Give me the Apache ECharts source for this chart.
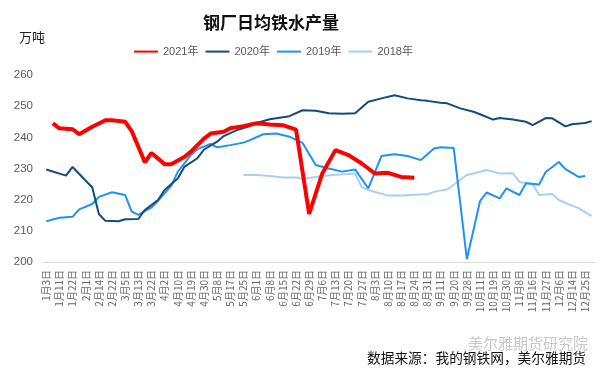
<!DOCTYPE html>
<html>
<head>
<meta charset="utf-8">
<script src="https://cdn.jsdelivr.net/npm/echarts@6/dist/echarts.min.js"></script>
<style>
html,body{margin:0;padding:0;background:#fff;}
#c{width:607px;height:373px;}
</style>
</head>
<body>
<div id="c"></div>
<script>
// Tick labels shown on the x axis (every other category of the underlying date axis)
var dateLabels = ['1月3日','1月11日','1月22日','2月1日','2月14日','2月22日','3月5日','3月13日','3月22日','4月2日',
  '4月10日','4月19日','4月30日','5月8日','5月17日','5月25日','6月1日','6月8日','6月15日','6月22日',
  '6月29日','7月6日','7月13日','7月20日','7月27日','8月3日','8月10日','8月17日','8月24日','8月31日',
  '9月11日','9月20日','9月28日','10月11日','10月19日','10月30日','11月8日','11月16日','11月27日','12月6日',
  '12月14日','12月25日'];

// Each series: [category index, value (万吨)]
var y2021 = [[1,244.5],[2,242.9],[4,242.6],[5,241.0],[7,243.4],[9,245.5],[10,245.5],[12,245.0],[13,242.0],
  [15,232.0],[16,235.0],[18,231.4],[19,231.4],[21,233.7],[22,235.4],[24,239.6],[25,241.2],[27,241.8],
  [28,242.9],[30,243.6],[32,244.5],[34,244.1],[36,243.9],[38,242.5],[40,215.4],[42,228.4],[44,235.9],
  [46,234.3],[48,231.6],[50,228.4],[52,228.6],[54,227.3],[56,227.0]];

var y2020 = [[0,229.7],[3,227.7],[4,230.5],[7,223.9],[8,215.4],[9,213.2],[11,213.1],[12,213.7],[14,213.8],
  [15,216.7],[17,219.9],[18,223.1],[20,226.8],[21,230.5],[23,233.3],[24,236.1],[26,238.6],[27,240.4],
  [29,242.3],[31,243.6],[32,244.6],[34,245.8],[37,246.8],[39,248.7],[41,248.5],[43,247.7],[45,247.6],
  [47,247.7],[49,251.4],[51,252.5],[53,253.5],[55,252.5],[57,251.9],[58,251.7],[60,251.1],[61,250.9],
  [63,249.3],[65,248.2],[66,247.4],[68,245.7],[69,246.2],[71,245.7],[73,245.0],[74,243.9],[76,246.2],
  [77,246.1],[79,243.5],[80,244.2],[82,244.6],[83,245.2]];

var y2019 = [[0,213.1],[2,214.2],[4,214.5],[5,216.9],[7,218.6],[8,220.9],[10,222.4],[12,221.5],[13,216.2],
  [14,215.1],[16,217.5],[17,219.6],[19,224.4],[20,228.9],[22,234.3],[23,236.2],[25,237.9],[26,236.8],
  [28,237.5],[30,238.3],[31,239.1],[33,241.0],[35,241.2],[37,240.2],[39,238.2],[41,231.1],[43,230.0],
  [45,229.0],[47,229.7],[49,223.6],[51,234.0],[53,234.6],[55,234.0],[57,232.7],[59,236.4],[60,236.8],
  [62,236.6],[64,200.9],[66,219.5],[67,222.3],[69,220.4],[70,223.6],[72,221.5],[73,225.3],[75,224.9],
  [76,228.9],[78,232.1],[79,229.8],[81,227.3],[82,227.6]];

var y2018 = [[30,227.9],[32,227.9],[34,227.6],[36,227.1],[38,227.1],[39,226.6],[42,227.6],[44,228.0],
  [46,228.2],[47,228.4],[48,224.0],[49,223.1],[52,221.3],[54,221.3],[56,221.6],[58,221.7],[59,222.5],
  [61,223.3],[62,224.8],[64,227.9],[65,228.4],[67,229.5],[69,228.4],[71,228.5],[72,225.7],[74,225.0],
  [75,221.5],[77,221.8],[78,219.9],[80,218.1],[81,217.3],[83,214.7]];

var seriesNames = ['2021年','2020年','2019年','2018年'];
var seriesColors = ['#ff0000','#154a7d','#2093f0','#a8d0f5'];
var seriesWidths = [4,2,2,2];
var seriesData = [y2021,y2020,y2019,y2018];

// underlying categories: each labelled date followed by an unlabelled date slot
var categories = [];
dateLabels.forEach(function(l){ categories.push(l); categories.push(''); });

var series = [];
for (var k = seriesData.length - 1; k >= 0; k--) {
  series.push({
    name: seriesNames[k], type: 'line', data: seriesData[k], symbol: 'none',
    lineStyle: {color: seriesColors[k], width: seriesWidths[k]},
    itemStyle: {color: seriesColors[k]},
    z: 10 - k, animation: false
  });
}

var chart = echarts.init(document.getElementById('c'));
chart.setOption({
  animation: false,
  title: {
    text: '钢厂日均铁水产量', left: 266, top: 9, textAlign: 'center',
    textStyle: {fontFamily: 'Noto Sans CJK SC', fontSize: 17, fontWeight: 'bold', color: '#111'}
  },
  legend: {
    data: seriesNames, left: 128, top: 41, itemWidth: 24, itemHeight: 14, itemGap: 6,
    itemStyle: {opacity: 0, borderWidth: 0},
    textStyle: {fontFamily: 'Liberation Sans, Noto Sans CJK SC', fontSize: 11, color: '#595959'}
  },
  grid: {left: 43, right: 12, top: 75, bottom: 111, containLabel: false},
  xAxis: {
    type: 'category', data: categories, boundaryGap: true,
    axisLine: {lineStyle: {color: '#d9d9d9', width: 1}},
    axisTick: {show: false},
    axisLabel: {interval: 0, rotate: 90, margin: 8, fontSize: 10, color: '#666',
      fontFamily: 'Noto Sans CJK SC'},
    splitLine: {show: false}
  },
  yAxis: {
    type: 'value', min: 200, max: 260, interval: 10,
    axisLine: {show: false}, axisTick: {show: false}, splitLine: {show: false},
    axisLabel: {margin: 10, fontSize: 11.5, color: '#595959', fontFamily: 'Liberation Sans'}
  },
  graphic: [
    {type: 'text', left: 19, top: 31, style: {text: '万吨', font: '13px "Noto Sans CJK SC"', fill: '#222'}},
    {type: 'text', left: 468, top: 336, style: {text: '美尔雅期货研究院', font: '15px "Noto Sans CJK SC"', fill: '#c8c8c8'}},
    {type: 'text', left: 367, top: 351, style: {text: '数据来源：我的钢铁网，美尔雅期货', font: '13.7px "Noto Sans CJK SC"', fill: '#111'}}
  ],
  series: series
});
</script>
</body>
</html>
